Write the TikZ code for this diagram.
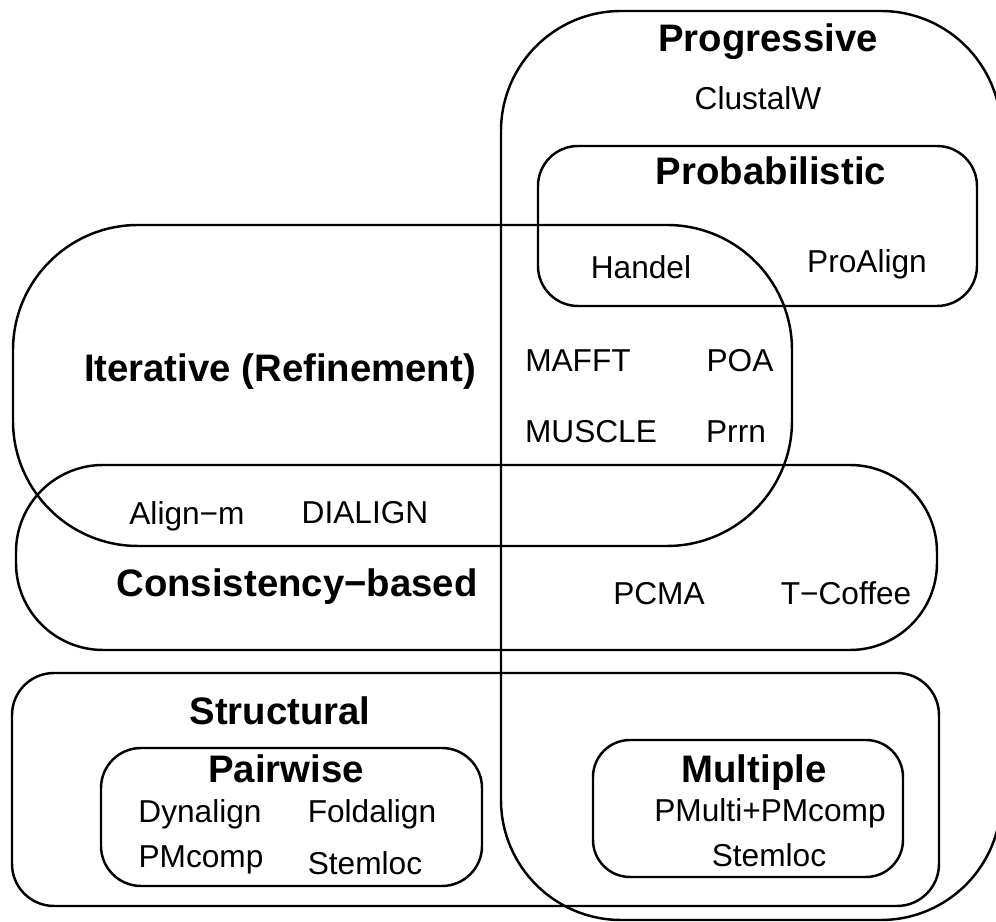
\documentclass[tikz,border=0pt]{standalone}
\usepackage{fontspec}
\setmainfont{Liberation Sans}

\begin{document}
\begin{tikzpicture}[x = 0.01cm, y = -0.01cm, line width = 0.7pt,
        set/.style = {draw, rounded corners = #1},
        head/.style = {anchor = base, inner sep = 0pt, font = \fontsize{10.9}{13}\selectfont\bfseries},
        tool/.style = {anchor = base, inner sep = 0pt, font = \fontsize{9}{11}\selectfont}]
    \useasboundingbox (0, 0) rectangle (996, 922);
    \clip (0, 0) rectangle (996, 922);

    % the sets
    \draw[set = 1.2cm]  (501, 11)  rectangle (1001, 920);  % progressive
    \draw[set = 0.4cm]  (538, 146) rectangle (977, 306);   % probabilistic
    \draw[set = 1.25cm] (13, 225)  rectangle (792, 546);   % iterative
    \draw[set = 0.87cm] (16, 465)  rectangle (937, 650);   % consistency
    \draw[set = 0.42cm] (12, 673)  rectangle (939, 906);   % structural
    \draw[set = 0.4cm]  (101, 748) rectangle (482, 886);   % pairwise
    \draw[set = 0.37cm] (593, 740) rectangle (903, 877);   % multiple

    % names of the sets
    \draw (768, 52)  node[head] (progressive) {Progressive}
          (771, 185) node[head] (probabilistic) {Probabilistic}
          (280, 382) node[head] (iterative) {Iterative (Refinement)}
          (297, 597) node[head] (consistency) {Consistency−based}
          (280, 725) node[head] (structural) {Structural}
          (286, 783) node[head] (pairwise) {Pairwise}
          (754, 783) node[head] (multiple) {Multiple};

    % the programs
    \draw (758, 110) node[tool] (clustalw) {ClustalW}
          (641, 279) node[tool] (handel) {Handel}
          (867, 273) node[tool] (proalign) {ProAlign}
          (578, 372) node[tool] (mafft) {MAFFT}
          (740, 372) node[tool] (poa) {POA}
          (591, 443) node[tool] (muscle) {MUSCLE}
          (736, 443) node[tool] (prrn) {Prrn}
          (187, 525) node[tool] (alignm) {Align−m}
          (365, 524) node[tool] (dialign) {DIALIGN}
          (659, 605) node[tool] (pcma) {PCMA}
          (846, 605) node[tool] (tcoffee) {T−Coffee}
          (200, 823) node[tool] (dynalign) {Dynalign}
          (372, 823) node[tool] (foldalign) {Foldalign}
          (201, 868) node[tool] (pmcomp) {PMcomp}
          (365, 875) node[tool] (stemlocp) {Stemloc}
          (770, 822) node[tool] (pmulti) {PMulti+PMcomp}
          (769, 867) node[tool] (stemlocm) {Stemloc};
\end{tikzpicture}
\end{document}
